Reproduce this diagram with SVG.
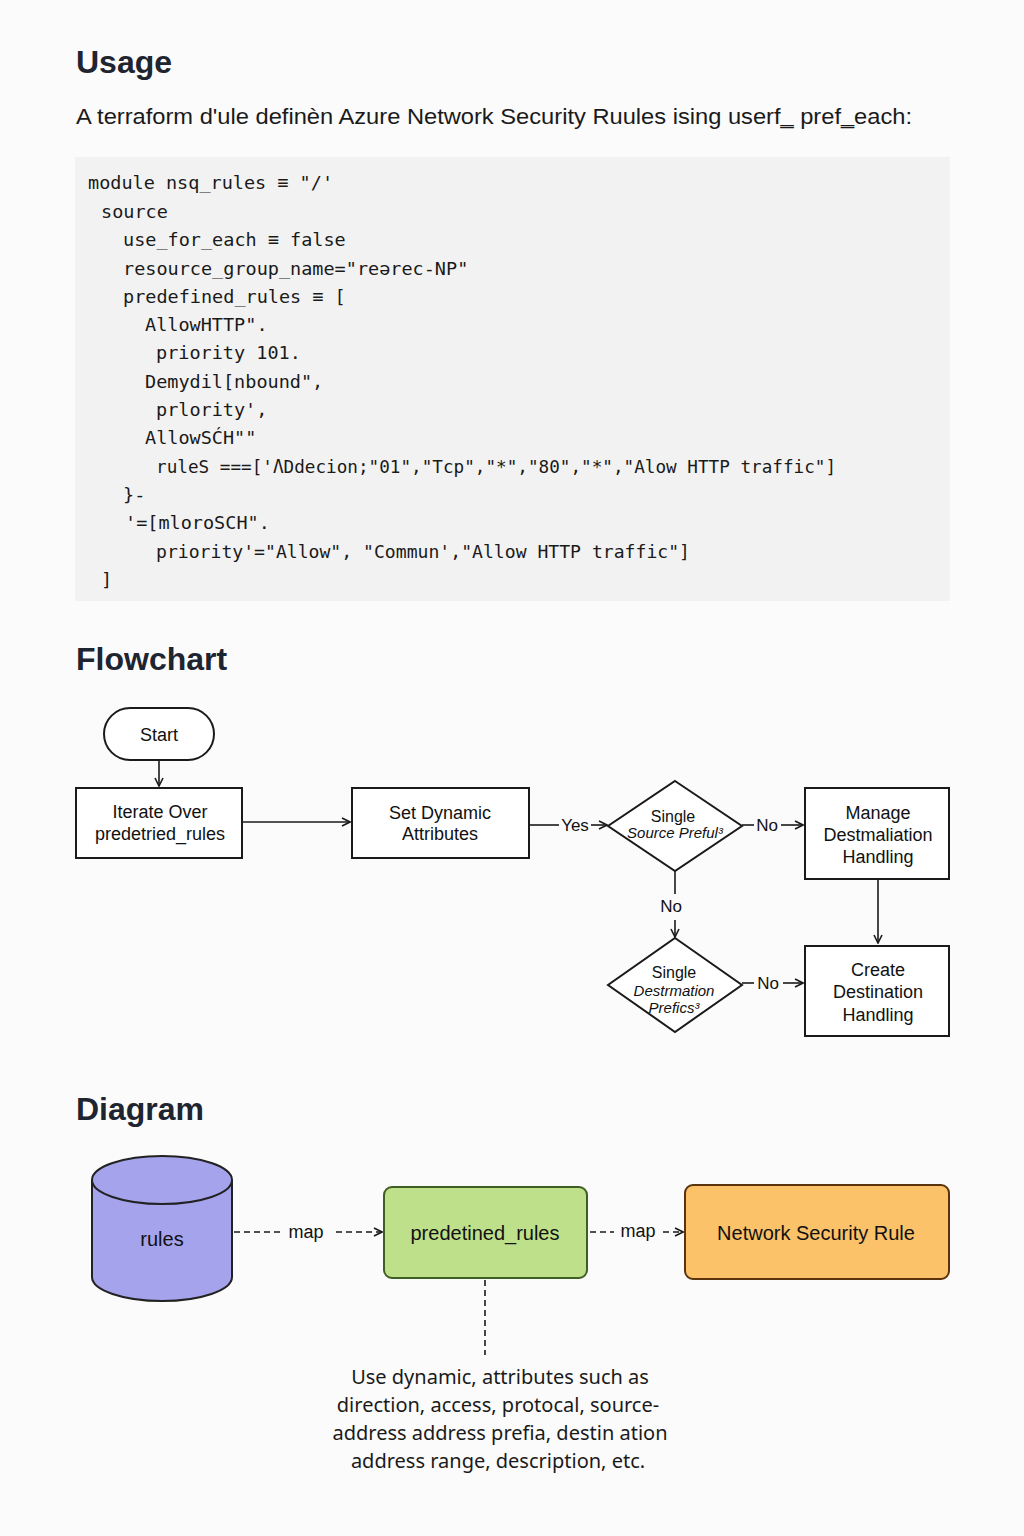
<svg xmlns="http://www.w3.org/2000/svg" width="1024" height="1536" viewBox="0 0 1024 1536">
<defs>
<marker id="ah" viewBox="0 0 10 10" refX="9" refY="5" markerWidth="10" markerHeight="10" markerUnits="userSpaceOnUse" orient="auto">
<path d="M1,1 L9,5 L1,9" fill="none" stroke="#1a1a1a" stroke-width="1.6"/>
</marker>
<style>
.h{font-family:"Liberation Sans",Arial,sans-serif;font-weight:bold;font-size:32px;fill:#1e2430}
.sub{font-family:"Liberation Sans",Arial,sans-serif;font-size:22px;fill:#1a1a1a}
.code{font-family:"DejaVu Sans Mono","Liberation Mono",monospace;font-size:18.5px;fill:#1a1a1a}
.n{font-family:"Liberation Sans",Arial,sans-serif;font-size:18px;fill:#111;text-anchor:middle}
.d{font-family:"Liberation Sans",Arial,sans-serif;font-size:16px;fill:#111;text-anchor:middle}
.di{font-family:"Liberation Sans",Arial,sans-serif;font-size:15px;font-style:italic;fill:#111;text-anchor:middle}
.lbl{font-family:"Liberation Sans",Arial,sans-serif;font-size:17px;fill:#111;text-anchor:middle}
.map{font-family:"Liberation Sans",Arial,sans-serif;font-size:18px;fill:#111;text-anchor:middle}
.box{fill:#ffffff;stroke:#1a1a1a;stroke-width:2}
.ln{fill:none;stroke:#1a1a1a;stroke-width:1.6}
.dash{fill:none;stroke:#1a1a1a;stroke-width:1.6;stroke-dasharray:6,4}
.dn{font-family:"Liberation Sans",Arial,sans-serif;font-size:20px;fill:#111;text-anchor:middle}
.note{font-family:"Noto Sans","Open Sans",sans-serif;font-size:20px;fill:#1a1a1a;text-anchor:middle}
</style>
</defs>
<rect width="1024" height="1536" fill="#fbfbfb"/>

<text class="h" x="76" y="73">Usage</text>
<text class="sub" x="76" y="124" textLength="836" lengthAdjust="spacingAndGlyphs">A terraform d'ule definèn Azure Network Security Ruules ising userf‗ pref‗each:</text>

<g id="code">
<rect x="75" y="157" width="875" height="444" fill="#f2f2f2"/>
<text class="code" x="88" y="189">module nsq_rules ≡ "/'</text>
<text class="code" x="101" y="218">source</text>
<text class="code" x="123" y="246">use_for_each ≡ false</text>
<text class="code" x="123" y="275">resource_group_name="reərec-NP"</text>
<text class="code" x="123" y="303">predefined_rules ≡ [</text>
<text class="code" x="145" y="331">AllowHTTP".</text>
<text class="code" x="156" y="359">priority 101.</text>
<text class="code" x="145" y="388">Demydil[nbound",</text>
<text class="code" x="156" y="416">prlority',</text>
<text class="code" x="145" y="444">AllowSĆH""</text>
<text class="code" x="156" y="473" textLength="680" lengthAdjust="spacingAndGlyphs">ruleS ===['ΛDdecion;"01","Tcp","*","80","*","Alow HTTP traffic"]</text>
<text class="code" x="123" y="501">}-</text>
<text class="code" x="125" y="529">'=[mloroSCH".</text>
<text class="code" x="156" y="558" textLength="534" lengthAdjust="spacingAndGlyphs">priority'="Allow", "Commun',"Allow HTTP traffic"]</text>
<text class="code" x="101" y="586">]</text>
</g>

<text class="h" x="76" y="670">Flowchart</text>

<g id="connectors">
<line class="ln" x1="159" y1="760" x2="159" y2="786" marker-end="url(#ah)"/>
<line class="ln" x1="242" y1="822" x2="350" y2="822" marker-end="url(#ah)"/>
<line class="ln" x1="529" y1="825" x2="559" y2="825"/>
<line class="ln" x1="591" y1="825" x2="607" y2="825" marker-end="url(#ah)"/>
<line class="ln" x1="742" y1="825" x2="754" y2="825"/>
<line class="ln" x1="781" y1="825" x2="803" y2="825" marker-end="url(#ah)"/>
<line class="ln" x1="878" y1="879" x2="878" y2="943" marker-end="url(#ah)"/>
<line class="ln" x1="675" y1="871" x2="675" y2="894"/>
<line class="ln" x1="675" y1="920" x2="675" y2="937" marker-end="url(#ah)"/>
<line class="ln" x1="742" y1="983" x2="754" y2="983"/>
<line class="ln" x1="783" y1="983" x2="803" y2="983" marker-end="url(#ah)"/>
<text class="lbl" x="575" y="831">Yes</text>
<text class="lbl" x="767" y="831">No</text>
<text class="lbl" x="671" y="912">No</text>
<text class="lbl" x="768" y="989">No</text>

<line class="dash" x1="234" y1="1232" x2="282" y2="1232"/>
<line class="dash" x1="336" y1="1232" x2="382" y2="1232" marker-end="url(#ah)"/>
<line class="dash" x1="590" y1="1232" x2="614" y2="1232"/>
<line class="dash" x1="663" y1="1232" x2="683" y2="1232" marker-end="url(#ah)"/>
<line class="dash" x1="485" y1="1280" x2="485" y2="1355"/>
<text class="map" x="306" y="1238">map</text>
<text class="map" x="638" y="1237">map</text>
</g>

<g id="start">
<rect class="box" x="104" y="708" width="110" height="52" rx="26"/>
<text class="n" x="159" y="741">Start</text>
</g>
<g id="iterate">
<rect class="box" x="76" y="788" width="166" height="70"/>
<text class="n" x="160" y="818">Iterate Over</text>
<text class="n" x="160" y="840">predetried_rules</text>
</g>
<g id="setdyn">
<rect class="box" x="352" y="788" width="177" height="70"/>
<text class="n" x="440" y="819">Set Dynamic</text>
<text class="n" x="440" y="840">Attributes</text>
</g>
<g id="dec1">
<polygon class="box" points="675,781 742,826 675,871 608,826"/>
<text class="d" x="673" y="822">Single</text>
<text class="di" x="675" y="838" font-size="14">Source Preful³</text>
</g>
<g id="manage">
<rect class="box" x="805" y="788" width="144" height="91"/>
<text class="n" x="878" y="819">Manage</text>
<text class="n" x="878" y="841">Destmaliation</text>
<text class="n" x="878" y="863">Handling</text>
</g>
<g id="dec2">
<polygon class="box" points="675,938 742,985 675,1032 608,985"/>
<text class="d" x="674" y="978">Single</text>
<text class="di" x="674" y="996">Destrmation</text>
<text class="di" x="674" y="1013">Prefics³</text>
</g>
<g id="create">
<rect class="box" x="805" y="946" width="144" height="90"/>
<text class="n" x="878" y="976">Create</text>
<text class="n" x="878" y="998">Destination</text>
<text class="n" x="878" y="1021">Handling</text>
</g>

<text class="h" x="76" y="1120">Diagram</text>

<g id="rules">
<path d="M92,1180 L92,1277 A70,24 0 0 0 232,1277 L232,1180" fill="#a5a3ec" stroke="#222" stroke-width="2"/>
<ellipse cx="162" cy="1180" rx="70" ry="24" fill="#a5a3ec" stroke="#222" stroke-width="2"/>
<text class="dn" x="162" y="1246">rules</text>
</g>
<g id="predef">
<rect x="384" y="1187" width="203" height="91" rx="8" fill="#bfe08a" stroke="#3f5e22" stroke-width="2"/>
<text class="dn" x="485" y="1240">predetined_rules</text>
</g>
<g id="nsr">
<rect x="685" y="1185" width="264" height="94" rx="8" fill="#fbc26a" stroke="#5a330c" stroke-width="2"/>
<text class="dn" x="816" y="1240">Network Security Rule</text>
</g>
<g id="note">
<text class="note" x="500" y="1384">Use dynamic, attributes such as</text>
<text class="note" x="498" y="1412">direction, access, protocal, source-</text>
<text class="note" x="500" y="1440">address address prefia, destin ation</text>
<text class="note" x="498" y="1468">address range, description, etc.</text>
</g>
</svg>
